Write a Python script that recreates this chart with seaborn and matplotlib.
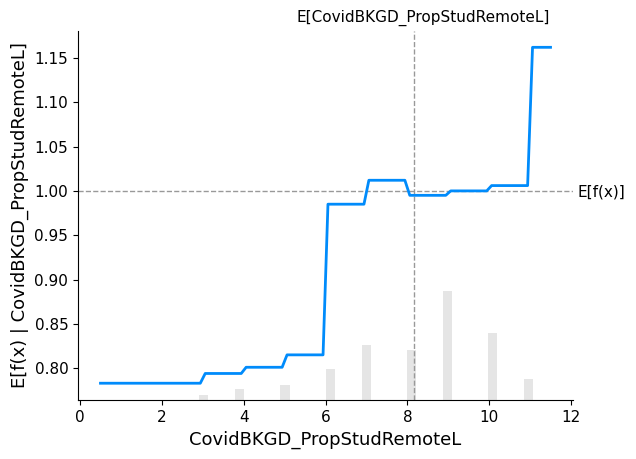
import matplotlib
matplotlib.use("Agg")
import matplotlib.pyplot as plt
import seaborn as sns
import numpy as np

feature = "CovidBKGD_PropStudRemoteL"

# partial dependence line (corner points)
pd_x = [0.5, 2.94, 3.06, 3.94, 4.06, 4.94, 5.06, 5.94, 6.06, 6.94, 7.06,
        7.94, 8.06, 8.94, 9.06, 9.94, 10.06, 10.94, 11.06, 11.5]
pd_y = [0.783, 0.783, 0.794, 0.794, 0.801, 0.801, 0.815, 0.815, 0.985, 0.985,
        1.012, 1.012, 0.995, 0.995, 1.000, 1.000, 1.006, 1.006, 1.162, 1.162]

# feature distribution (value -> count)
hist_values = [3, 4, 5, 6, 7, 8, 9, 10, 11]
hist_counts = [5, 11, 15, 31, 55, 50, 109, 67, 21]
n_samples = 370
x_min, x_max = 0.5, 11.5

expected_fx = 1.0
feature_mean = 8.16

fig = plt.figure(figsize=(6.36, 4.59), dpi=100)
ax1 = fig.add_axes([0.1226, 0.1285, 0.7784, 0.805])

# histogram on twin axis
ax2 = ax1.twinx()
sns.histplot(x=hist_values, weights=hist_counts, bins=50, binrange=(x_min, x_max),
             ax=ax2, color="black", alpha=0.1, linewidth=0, edgecolor="none")
ax2.set_ylim(0, n_samples)
ax2.set_yticks([])
ax2.set_ylabel("")
ax2.set_xlabel("")
for s in ["right", "top", "left", "bottom"]:
    ax2.spines[s].set_visible(False)

ax1.set_zorder(ax2.get_zorder() + 1)
ax1.patch.set_visible(False)

sns.lineplot(x=pd_x, y=pd_y, ax=ax1, color="#008bfb", linewidth=2,
             estimator=None, sort=False)
ax1.axhline(expected_fx, color="#999999", zorder=-1, linestyle="--", linewidth=1)
ax1.axvline(feature_mean, color="#999999", zorder=-1, linestyle="--", linewidth=1)

ax1.set_xlabel(feature, fontsize=13)
ax1.set_ylabel("E[f(x) | " + feature + "]", fontsize=13)
ax1.tick_params(labelsize=11)
yt = [0.80, 0.85, 0.90, 0.95, 1.00, 1.05, 1.10, 1.15]
ax1.set_yticks(yt)
ax1.set_yticklabels([f"{v:.2f}" for v in yt])
ax1.set_xticks([0, 2, 4, 6, 8, 10, 12])
ax1.spines["right"].set_visible(False)
ax1.spines["top"].set_visible(False)

ylim = ax1.get_ylim()

ax4 = ax1.twinx()
ax4.set_ylim(ylim)
ax4.set_yticks([expected_fx])
ax4.set_yticklabels(["E[f(x)]"], fontsize=11)
ax4.tick_params(length=0)
for s in ["right", "top", "left", "bottom"]:
    ax4.spines[s].set_visible(False)

ax3 = ax1.twiny()
ax3.set_xlim(x_min, x_max)
ax3.set_xticks([feature_mean])
ax3.set_xticklabels(["E[" + feature + "]"], fontsize=11)
ax3.tick_params(length=0)
for s in ["right", "top", "left", "bottom"]:
    ax3.spines[s].set_visible(False)

fig.savefig("out.png", dpi=100)
